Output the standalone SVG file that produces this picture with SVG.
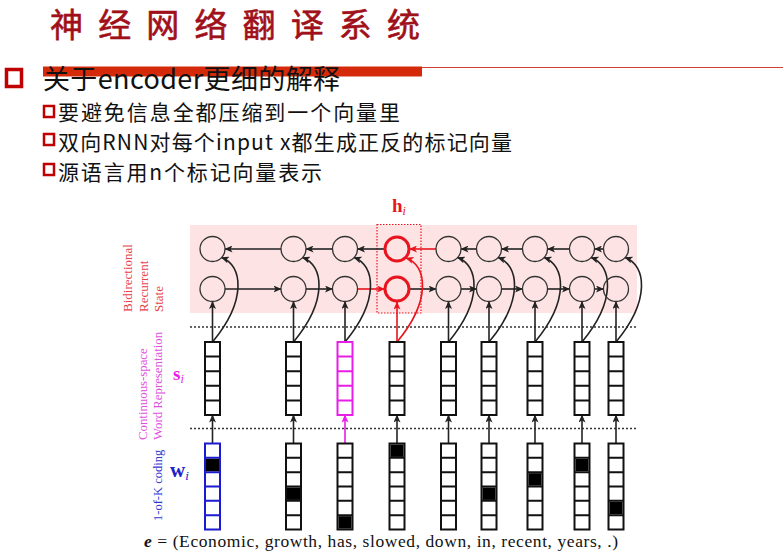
<svg xmlns="http://www.w3.org/2000/svg" xmlns:xlink="http://www.w3.org/1999/xlink" width="783" height="560" viewBox="0 0 783 560">
<style>
.cjk{font-family:"Noto Sans CJK SC","Noto Sans",sans-serif}
.ser{font-family:"Liberation Serif","DejaVu Serif",serif}
.c{fill:none;stroke:#222;stroke-width:1.6}
.cr{fill:none;stroke:#e8141e;stroke-width:1.6}
.cm{fill:none;stroke:#e81ee8;stroke-width:1.6}
.node{fill:#fff;fill-opacity:0;stroke:#333;stroke-width:1.3}
.noder{fill:none;stroke:#e8141e;stroke-width:3}
.vec{fill:#fff;stroke:currentColor;stroke-width:2}
.blk{fill:#000}
.sq{fill:none;stroke:#c00000}
</style>
<defs>
<marker id="ab" viewBox="0 0 8 7" refX="7.5" refY="3.5" markerWidth="8" markerHeight="7" markerUnits="userSpaceOnUse" orient="auto"><path d="M0,0 L8,3.5 L0,7 L2,3.5 z" fill="#222"/></marker>
<marker id="ar" viewBox="0 0 8 7" refX="7.5" refY="3.5" markerWidth="8" markerHeight="7" markerUnits="userSpaceOnUse" orient="auto"><path d="M0,0 L8,3.5 L0,7 L2,3.5 z" fill="#e8141e"/></marker>
<marker id="am" viewBox="0 0 8 7" refX="7.5" refY="3.5" markerWidth="8" markerHeight="7" markerUnits="userSpaceOnUse" orient="auto"><path d="M0,0 L8,3.5 L0,7 L2,3.5 z" fill="#e81ee8"/></marker>
<g id="svec">
<rect class="vec" x="-7.5" y="342" width="15" height="73"/>
<path d="M-7.5,356.6H7.5M-7.5,371.2H7.5M-7.5,385.8H7.5M-7.5,400.4H7.5" stroke="currentColor" stroke-width="2"/>
</g>
<g id="wvec">
<rect class="vec" x="-7.5" y="443.5" width="15" height="86"/>
<path d="M-7.5,457.8H7.5M-7.5,472.2H7.5M-7.5,486.5H7.5M-7.5,500.8H7.5M-7.5,515.2H7.5" stroke="currentColor" stroke-width="2"/>
</g>
</defs>
<rect width="783" height="560" fill="#fff"/>

<g id="title"><text class="cjk" x="50" y="37" font-size="33" textLength="370" lengthAdjust="spacing" fill="#a0101a" stroke="#a0101a" stroke-width="0.6">神经网络翻译系统</text></g>

<g id="bullets">
<rect x="43" y="66.5" width="379" height="10" fill="#d42a0a"/>
<line x1="422" y1="67.5" x2="783" y2="67.5" stroke="#d04030" stroke-width="1"/>
<rect class="sq" x="6.5" y="69.5" width="15" height="17" stroke-width="3.5"/>
<text class="cjk" x="43" y="89" font-size="27" textLength="297" lengthAdjust="spacing" fill="#111">关于encoder更细的解释</text>
<rect class="sq" x="44" y="106" width="10" height="11" stroke-width="2.5"/>
<text class="cjk" x="58" y="120" font-size="21" textLength="342" lengthAdjust="spacing" fill="#111">要避免信息全都压缩到一个向量里</text>
<rect class="sq" x="44" y="134" width="10" height="11" stroke-width="2.5"/>
<text class="cjk" x="58" y="150" font-size="21" textLength="454" lengthAdjust="spacing" fill="#111">双向RNN对每个input x都生成正反的标记向量</text>
<rect class="sq" x="44" y="164" width="10" height="11" stroke-width="2.5"/>
<text class="cjk" x="58" y="180" font-size="21" textLength="264" lengthAdjust="spacing" fill="#111">源语言用n个标记向量表示</text>
</g>

<g id="state-band">
<rect x="190" y="225" width="447" height="88" fill="#fde3e3"/>
<rect x="377" y="224.5" width="44" height="88.5" fill="none" stroke="#e8141e" stroke-width="1.2" stroke-dasharray="1.5,1.5"/>
</g>
<g id="separators" stroke="#333" stroke-width="1.6" stroke-dasharray="2,2">
<line x1="190" y1="327" x2="637" y2="327"/>
<line x1="190" y1="428.5" x2="637" y2="428.5"/>
</g>

<g id="labels" class="ser">
<text transform="translate(132,312) rotate(-90)" font-size="13" fill="#e84048">Bidirectional</text>
<text transform="translate(147.5,312) rotate(-90)" font-size="13" fill="#e84048">Recurrent</text>
<text transform="translate(163,312) rotate(-90)" font-size="13" fill="#e84048">State</text>
<text transform="translate(147,440) rotate(-90)" font-size="12.8" fill="#e050e0">Continuous-space</text>
<text transform="translate(162,440) rotate(-90)" font-size="12.8" fill="#e050e0">Word Representation</text>
<text transform="translate(162,521) rotate(-90)" font-size="12.5" fill="#3838d0">1-of-K coding</text>
<text x="392" y="212" font-size="19" font-weight="bold" fill="#e8141e">h<tspan font-size="12" font-style="italic" font-weight="normal" dy="3">i</tspan></text>
<text x="173" y="380" font-size="19" font-weight="bold" fill="#e81ee8">s<tspan font-size="12" font-style="italic" font-weight="normal" dy="3">i</tspan></text>
<text x="170" y="477" font-size="21" font-weight="bold" fill="#2020c8">w<tspan font-size="13" font-style="italic" font-weight="normal" dy="3">i</tspan></text>
<text x="144" y="547" font-size="17.5" textLength="474" lengthAdjust="spacing" fill="#111"><tspan font-weight="bold" font-style="italic">e</tspan> = (Economic, growth, has, slowed, down, in, recent, years, .)</text>
</g>

<g id="connectors">
<line class="c" x1="281" y1="249" x2="225" y2="249" marker-end="url(#ab)"/>
<line class="c" x1="332.5" y1="249" x2="306" y2="249" marker-end="url(#ab)"/>
<line class="c" x1="384.5" y1="249" x2="357.5" y2="249" marker-end="url(#ab)"/>
<line class="cr" x1="436" y1="249" x2="409.5" y2="249" marker-end="url(#ar)"/>
<line class="c" x1="476.5" y1="249" x2="461" y2="249" marker-end="url(#ab)"/>
<line class="c" x1="522.5" y1="249" x2="501.5" y2="249" marker-end="url(#ab)"/>
<line class="c" x1="569.5" y1="249" x2="547.5" y2="249" marker-end="url(#ab)"/>
<line class="c" x1="603.5" y1="249" x2="594.5" y2="249" marker-end="url(#ab)"/>
<line class="c" x1="225" y1="289" x2="281" y2="289" marker-end="url(#ab)"/>
<line class="c" x1="306" y1="289" x2="332.5" y2="289" marker-end="url(#ab)"/>
<line class="cr" x1="357.5" y1="289" x2="384.5" y2="289" marker-end="url(#ar)"/>
<line class="c" x1="409.5" y1="289" x2="436" y2="289" marker-end="url(#ab)"/>
<line class="c" x1="461" y1="289" x2="476.5" y2="289" marker-end="url(#ab)"/>
<line class="c" x1="501.5" y1="289" x2="522.5" y2="289" marker-end="url(#ab)"/>
<line class="c" x1="547.5" y1="289" x2="569.5" y2="289" marker-end="url(#ab)"/>
<line class="c" x1="594.5" y1="289" x2="603.5" y2="289" marker-end="url(#ab)"/>
<line class="c" x1="212.5" y1="342" x2="212.5" y2="301.5" marker-end="url(#ab)"/>
<line class="c" x1="293.5" y1="342" x2="293.5" y2="301.5" marker-end="url(#ab)"/>
<line class="c" x1="345" y1="342" x2="345" y2="301.5" marker-end="url(#ab)"/>
<line class="cr" x1="397" y1="342" x2="397" y2="302" marker-end="url(#ar)"/>
<line class="c" x1="448.5" y1="342" x2="448.5" y2="301.5" marker-end="url(#ab)"/>
<line class="c" x1="489" y1="342" x2="489" y2="301.5" marker-end="url(#ab)"/>
<line class="c" x1="535" y1="342" x2="535" y2="301.5" marker-end="url(#ab)"/>
<line class="c" x1="582" y1="342" x2="582" y2="301.5" marker-end="url(#ab)"/>
<line class="c" x1="616" y1="342" x2="616" y2="301.5" marker-end="url(#ab)"/>
<path class="c" d="M212.5,342 C247.5,300 242.5,265 221.5,257.5" marker-end="url(#ab)"/>
<path class="c" d="M293.5,342 C328.5,300 323.5,265 302.5,257.5" marker-end="url(#ab)"/>
<path class="c" d="M345,342 C380,300 375,265 354,257.5" marker-end="url(#ab)"/>
<path class="cr" d="M397,342 C432,300 427,265 406,258" marker-end="url(#ar)"/>
<path class="c" d="M448.5,342 C483.5,300 478.5,265 457.5,257.5" marker-end="url(#ab)"/>
<path class="c" d="M489,342 C524,300 519,265 498,257.5" marker-end="url(#ab)"/>
<path class="c" d="M535,342 C570,300 565,265 544,257.5" marker-end="url(#ab)"/>
<path class="c" d="M582,342 C617,300 612,265 591,257.5" marker-end="url(#ab)"/>
<path class="c" d="M616,342 C651,300 646,265 625,257.5" marker-end="url(#ab)"/>
<line class="c" x1="212.5" y1="443.5" x2="212.5" y2="415" marker-end="url(#ab)"/>
<line class="c" x1="293.5" y1="443.5" x2="293.5" y2="415" marker-end="url(#ab)"/>
<line class="cm" x1="345" y1="443.5" x2="345" y2="415" marker-end="url(#am)"/>
<line class="c" x1="397" y1="443.5" x2="397" y2="415" marker-end="url(#ab)"/>
<line class="c" x1="448.5" y1="443.5" x2="448.5" y2="415" marker-end="url(#ab)"/>
<line class="c" x1="489" y1="443.5" x2="489" y2="415" marker-end="url(#ab)"/>
<line class="c" x1="535" y1="443.5" x2="535" y2="415" marker-end="url(#ab)"/>
<line class="c" x1="582" y1="443.5" x2="582" y2="415" marker-end="url(#ab)"/>
<line class="c" x1="616" y1="443.5" x2="616" y2="415" marker-end="url(#ab)"/>
</g>

<g id="h-backward">
<circle class="node" cx="212.5" cy="249" r="12.5"/>
<circle class="node" cx="293.5" cy="249" r="12.5"/>
<circle class="node" cx="345" cy="249" r="12.5"/>
<circle class="noder" cx="397" cy="249" r="12"/>
<circle class="node" cx="448.5" cy="249" r="12.5"/>
<circle class="node" cx="489" cy="249" r="12.5"/>
<circle class="node" cx="535" cy="249" r="12.5"/>
<circle class="node" cx="582" cy="249" r="12.5"/>
<circle class="node" cx="616" cy="249" r="12.5"/>
</g>
<g id="h-forward">
<circle class="node" cx="212.5" cy="289" r="12.5"/>
<circle class="node" cx="293.5" cy="289" r="12.5"/>
<circle class="node" cx="345" cy="289" r="12.5"/>
<circle class="noder" cx="397" cy="289" r="12"/>
<circle class="node" cx="448.5" cy="289" r="12.5"/>
<circle class="node" cx="489" cy="289" r="12.5"/>
<circle class="node" cx="535" cy="289" r="12.5"/>
<circle class="node" cx="582" cy="289" r="12.5"/>
<circle class="node" cx="616" cy="289" r="12.5"/>
</g>

<g id="s-vectors" color="#111">
<use xlink:href="#svec" x="212.5"/>
<use xlink:href="#svec" x="293.5"/>
<use xlink:href="#svec" x="345" color="#e81ee8"/>
<use xlink:href="#svec" x="397"/>
<use xlink:href="#svec" x="448.5"/>
<use xlink:href="#svec" x="489"/>
<use xlink:href="#svec" x="535"/>
<use xlink:href="#svec" x="582"/>
<use xlink:href="#svec" x="616"/>
</g>

<g id="w-vectors" color="#111">
<use xlink:href="#wvec" x="212.5" color="#1a1ad0"/>
<use xlink:href="#wvec" x="293.5"/>
<use xlink:href="#wvec" x="345"/>
<use xlink:href="#wvec" x="397"/>
<use xlink:href="#wvec" x="448.5"/>
<use xlink:href="#wvec" x="489"/>
<use xlink:href="#wvec" x="535"/>
<use xlink:href="#wvec" x="582"/>
<use xlink:href="#wvec" x="616"/>
<rect class="blk" x="206" y="458.8" width="13" height="12.4"/>
<rect class="blk" x="287" y="487.5" width="13" height="12.4"/>
<rect class="blk" x="338.5" y="516.2" width="13" height="12.4"/>
<rect class="blk" x="390.5" y="444.5" width="13" height="12.4"/>
<rect class="blk" x="482.5" y="487.5" width="13" height="12.4"/>
<rect class="blk" x="528.5" y="473.2" width="13" height="12.4"/>
<rect class="blk" x="575.5" y="458.8" width="13" height="12.4"/>
<rect class="blk" x="609.5" y="501.8" width="13" height="12.4"/>
</g>
</svg>
